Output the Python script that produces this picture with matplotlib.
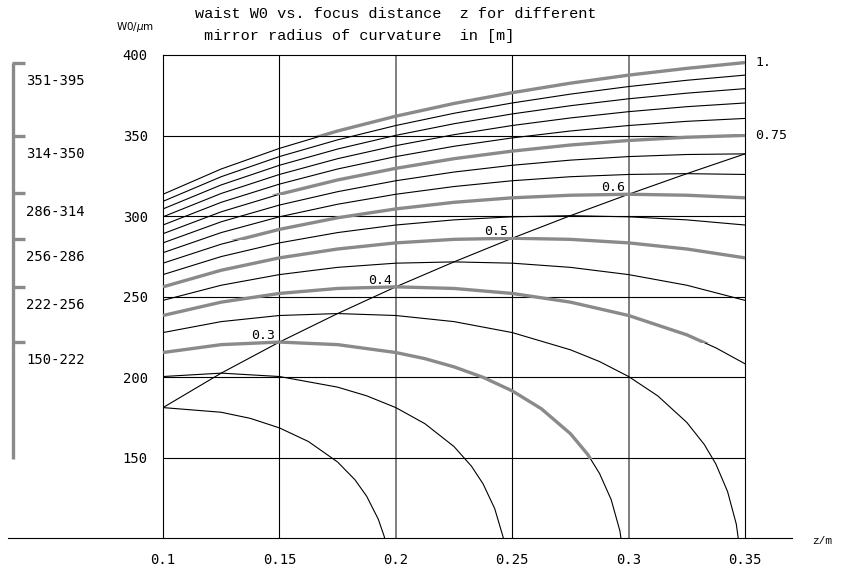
import matplotlib.pyplot as plt
from matplotlib.patches import Rectangle

# focus distance z in m (common grid for the curves that stay above 100 um)
z_full = [0.1, 0.125, 0.15, 0.175, 0.2, 0.225, 0.25, 0.275, 0.3, 0.325, 0.35]

# waist W0 in um for each mirror radius of curvature R
z_020 = [0.1, 0.125, 0.1375, 0.15, 0.1625, 0.175, 0.1825, 0.1875, 0.1925, 0.195, 0.1975, 0.2]
w_020 = [181.0, 178.1, 174.3, 168.4, 159.9, 147.2, 136.1, 125.9, 111.6, 101.1, 85.3, 0.0]

z_025 = [0.1, 0.125, 0.15, 0.175, 0.1875, 0.2, 0.2125, 0.225, 0.2325, 0.2375, 0.2425,
         0.24625, 0.25]
w_025 = [200.3, 202.4, 200.3, 193.7, 188.3, 181.0, 171.0, 156.8, 144.6, 133.6, 118.2,
         99.8, 0.0]

z_030 = [0.1, 0.125, 0.15, 0.175, 0.2, 0.2125, 0.225, 0.2375, 0.25, 0.2625, 0.275, 0.2825,
         0.2875, 0.2925, 0.29625, 0.29875, 0.3]
w_030 = [215.2, 220.1, 221.7, 220.1, 215.2, 211.4, 206.3, 199.8, 191.4, 180.3, 164.8, 151.8,
         140.1, 123.9, 104.5, 79.6, 0.0]

z_035 = [0.1, 0.125, 0.15, 0.175, 0.2, 0.225, 0.25, 0.275, 0.2875, 0.3, 0.3125, 0.325,
         0.3325, 0.3375, 0.3425, 0.34625, 0.34875, 0.35]
w_035 = [227.6, 234.4, 238.2, 239.4, 238.2, 234.4, 227.6, 216.9, 209.6, 200.3, 188.3, 171.8,
         158.1, 145.9, 128.9, 108.7, 82.7, 0.0]

z_040 = [0.1, 0.125, 0.15, 0.175, 0.2, 0.225, 0.25, 0.275, 0.3, 0.325, 0.3375, 0.35]
w_040 = [238.2, 246.5, 251.9, 255.0, 256.0, 255.0, 251.9, 246.5, 238.2, 226.2, 218.1, 208.2]

w_045 = [247.6, 257.0, 263.6, 268.1, 270.7, 271.5, 270.7, 268.1, 263.6, 257.0, 247.6]
w_050 = [256.0, 266.3, 274.0, 279.5, 283.3, 285.5, 286.2, 285.5, 283.3, 279.5, 274.0]
w_055 = [263.6, 274.8, 283.3, 289.7, 294.4, 297.6, 299.5, 300.2, 299.5, 297.6, 294.4]
w_060 = [270.7, 282.5, 291.7, 298.9, 304.4, 308.5, 311.3, 312.9, 313.5, 312.9, 311.3]
w_065 = [277.2, 289.7, 299.5, 307.3, 313.5, 318.3, 321.9, 324.4, 325.8, 326.3, 325.8]
w_070 = [283.3, 296.4, 306.8, 315.1, 321.9, 327.3, 331.5, 334.7, 336.9, 338.2, 338.6]
w_075 = [289.0, 302.6, 313.5, 322.4, 329.6, 335.6, 340.3, 344.1, 346.9, 348.9, 350.1]
w_080 = [294.4, 308.5, 319.8, 329.2, 336.9, 343.3, 348.5, 352.8, 356.2, 358.8, 360.6]
w_085 = [299.5, 314.0, 325.8, 335.6, 343.7, 350.5, 356.2, 360.9, 364.8, 367.9, 370.2]
w_090 = [304.4, 319.3, 331.5, 341.6, 350.1, 357.3, 363.4, 368.5, 372.8, 376.3, 379.1]
w_095 = [309.1, 324.4, 336.9, 347.3, 356.2, 363.8, 370.2, 375.7, 380.4, 384.3, 387.5]
w_100 = [313.5, 329.2, 342.0, 352.8, 362.0, 369.9, 376.6, 382.5, 387.5, 391.7, 395.3]

# largest waist for each R (reached at z = R/2)
w_max = [181.0, 202.4, 221.7, 239.4, 256.0, 271.5, 286.2, 300.2, 313.5, 326.3, 338.6]

# radii drawn thick, with the waist range they cover
band_radius = [1.0, 0.75, 0.6, 0.5, 0.4, 0.3]
band_lo = [351, 314, 286, 256, 222, 150]
band_hi = [395, 350, 314, 286, 256, 222]
band_w = [w_100, w_075, w_060, w_050, w_040, w_030]
band_z = [z_full, z_full, z_full, z_full, z_040, z_030]

# labels on the curves at the maximum
inner_labels = ["0.3", "0.4", "0.5", "0.6"]
inner_z = [0.15, 0.2, 0.25, 0.3]
inner_w = [221.7, 256.0, 286.2, 313.5]
edge_labels = ["1.", "0.75"]
edge_w = [395.3, 350.1]

x_ticks = [0.1, 0.15, 0.2, 0.25, 0.3, 0.35]
x_labels = ["0.1", "0.15", "0.2", "0.25", "0.3", "0.35"]
y_ticks = [150, 200, 250, 300, 350, 400]

GRAY = "#8a8a8a"
MONO = "DejaVu Sans Mono"

fig = plt.figure(figsize=(8.41, 5.70), dpi=100)
ax = fig.add_axes([163 / 841, 1 - 538 / 570, 582 / 841, 483 / 570])
ax.set_xlim(0.1, 0.35)
ax.set_ylim(100, 400)

# grid
for x in x_ticks[1:-1]:
    col = "#6a6a6a" if x in (0.2, 0.3) else "black"
    ax.axvline(x, color=col, lw=1.2 if col != "black" else 0.8, zorder=1)
for y in y_ticks[:-1]:
    ax.axhline(y, color="black", lw=0.8, zorder=1)

curves = [(z_020, w_020), (z_025, w_025), (z_030, w_030), (z_035, w_035), (z_040, w_040)]
for w in [w_045, w_050, w_055, w_060, w_065, w_070, w_075, w_080, w_085, w_090, w_095, w_100]:
    curves.append((z_full, w))
for z, w in curves:
    ax.plot(z, w, color="black", lw=0.8, zorder=2)

# locus of the maxima
ax.plot(z_full, w_max, color="black", lw=0.8, zorder=2)

# thick segments, clipped to each waist range
for z, w, lo, hi in zip(band_z, band_w, band_lo, band_hi):
    ln, = ax.plot(z, w, color=GRAY, lw=2.4, zorder=3, solid_capstyle="butt")
    clip = Rectangle((0.0, lo - 1), 1.0, hi - lo + 2, transform=ax.transData)
    ln.set_clip_path(clip)

for txt, x, y in zip(inner_labels, inner_z, inner_w):
    ax.text(x - 0.0017, y + 2, txt, ha="right", va="baseline",
            family=MONO, fontsize=9.5, zorder=4)
for txt, y in zip(edge_labels, edge_w):
    ax.text(0.3543, y, txt, ha="left", va="center", family=MONO, fontsize=9.5,
            clip_on=False)

# frame and axis
for side in ["left", "right", "top"]:
    ax.spines[side].set_linewidth(0.8)
ax.spines["bottom"].set_visible(False)
ax.plot([-0.2663, 1.0808], [0, 0], transform=ax.transAxes, color="black",
        lw=0.8, clip_on=False)

ax.set_xticks(x_ticks)
ax.set_xticklabels(x_labels, family=MONO, fontsize=10)
ax.set_yticks(y_ticks)
ax.set_yticklabels([str(v) for v in y_ticks], family=MONO, fontsize=10)
ax.tick_params(length=0)
ax.tick_params(axis="x", pad=11)
ax.tick_params(axis="y", pad=11)

# range scale on the left
trans = ax.get_yaxis_transform()
ax.plot([-0.2569, -0.2569], [395, 148.8], transform=trans, color=GRAY, lw=2.4,
        clip_on=False, solid_capstyle="butt")
for lo, hi in zip(band_lo, band_hi):
    ax.plot([-0.2595, -0.2371], [hi, hi], transform=trans, color=GRAY, lw=2.4,
            clip_on=False, solid_capstyle="butt")
    ax.annotate(f"{lo}-{hi}", xy=(-0.2371, hi), xycoords=trans, xytext=(1, -13),
                textcoords="offset points", ha="left", va="center",
                family=MONO, fontsize=10, annotation_clip=False)

fig.text(195 / 841, 1 - 14 / 570, "waist W0 vs. focus distance  z for different",
         family="Liberation Mono", fontsize=11, ha="left", va="center")
fig.text(195 / 841, 1 - 36 / 570, " mirror radius of curvature  in [m]",
         family="Liberation Mono", fontsize=11, ha="left", va="center")
fig.text(135 / 841, 1 - 27 / 570, r"W0/$\mu$m", fontsize=7.5, ha="center", va="center")
fig.text(812 / 841, 1 - 541 / 570, "z/m", family="Liberation Mono", fontsize=8,
         ha="left", va="center")

fig.savefig("out.png", dpi=100)
